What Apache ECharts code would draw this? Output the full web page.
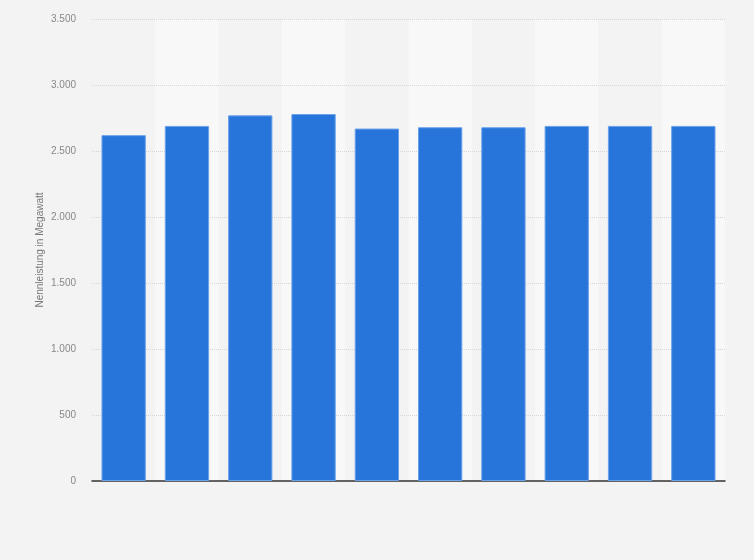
<!DOCTYPE html>
<html>
<head>
<meta charset="utf-8">
<script src="https://cdn.jsdelivr.net/npm/echarts@6/dist/echarts.min.js"></script>
<style>
  html, body { margin: 0; padding: 0; background: #f3f3f3; }
  #main { width: 754px; height: 560px; }
</style>
</head>
<body>
<div id="main"></div>
<script>
// Kategorien (keine Beschriftung im Original sichtbar)
var categories = ['1', '2', '3', '4', '5', '6', '7', '8', '9', '10'];
// Nennleistung in Megawatt
var values = [2620, 2690, 2770, 2780, 2670, 2680, 2680, 2690, 2690, 2690];
var yTitle = 'Nennleistung in Megawatt';

var myChart = echarts.init(document.getElementById('main'));

var option = {
    backgroundColor: '#f3f3f3',
    textStyle: { fontFamily: 'Arial, Liberation Sans, sans-serif' },
    grid: { left: 92, right: 29, top: 19, bottom: 79 },
    // Achsentitel als Text, damit er dichter an den Zahlen steht
    graphic: [{
        type: 'text',
        x: 40,
        y: 250,
        rotation: Math.PI / 2,
        style: {
            text: yTitle,
            fill: '#777',
            fontSize: 10,
            fontFamily: 'Arial, Liberation Sans, sans-serif',
            align: 'center',
            verticalAlign: 'middle'
        }
    }],
    xAxis: {
        type: 'category',
        data: categories,
        z: 0,
        axisLine: { lineStyle: { color: '#333', width: 1.5 } },
        axisTick: { show: false },
        axisLabel: { show: false },
        splitArea: {
            show: true,
            areaStyle: { color: ['rgba(0,0,0,0)', '#f8f8f8'] }
        }
    },
    yAxis: {
        type: 'value',
        z: 1,
        min: 0,
        max: 3500,
        interval: 500,
        axisLine: { show: false },
        axisTick: { show: false },
        axisLabel: {
            color: '#888',
            fontSize: 10,
            margin: 16,
            formatter: function (v) { return v.toLocaleString('de-DE'); }
        },
        splitLine: { showMinLine: false, lineStyle: { color: '#d6d6d6', type: [1, 1] } }
    },
    series: [{
        type: 'bar',
        data: values,
        z: 3,
        barCategoryGap: '30%',
        itemStyle: {
            color: '#2775db',
            borderColor: '#6aa2ea',
            borderWidth: 1
        }
    }]
};

myChart.setOption(option);
</script>
</body>
</html>
